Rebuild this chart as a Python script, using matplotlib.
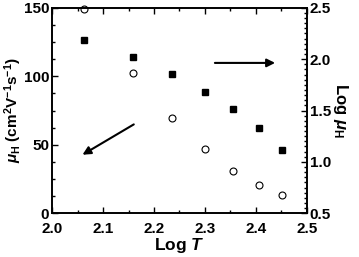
import numpy as np
from matplotlib import pyplot as plt
from matplotlib.ticker import AutoMinorLocator, MultipleLocator

plt.rcParams['font.family'] = ['Liberation Sans', 'DejaVu Sans']
plt.rcParams['font.weight'] = 'bold'
plt.rcParams['mathtext.fontset'] = 'custom'
plt.rcParams['mathtext.rm'] = 'Liberation Sans:bold'
plt.rcParams['mathtext.it'] = 'Liberation Sans:bold:italic'

# Données
log_t = [2.063, 2.159, 2.235, 2.301, 2.355, 2.406, 2.451]
mu_h = [149, 102.5, 69.5, 47, 31, 21, 13]
log_mu_h = [2.19, 2.02, 1.856, 1.68, 1.51, 1.33, 1.115]

fig, ax = plt.subplots(figsize=(3.59, 2.57), dpi=100)
fig.subplots_adjust(left=0.145, right=0.855, top=0.97, bottom=0.17)
ax2 = ax.twinx()

ax.plot(log_t, mu_h, 'o', mfc='white', mec='black', ms=5, mew=0.8, clip_on=False)
ax2.plot(log_t, log_mu_h, 's', color='black', ms=4.5, clip_on=False)

ax.set_xlim(2.0, 2.5)
ax.set_ylim(0, 150)
ax2.set_ylim(0.5, 2.5)

ax.xaxis.set_major_locator(MultipleLocator(0.1))
ax.xaxis.set_minor_locator(AutoMinorLocator(2))
ax.yaxis.set_major_locator(MultipleLocator(50))
ax.yaxis.set_minor_locator(AutoMinorLocator(4))
ax2.yaxis.set_major_locator(MultipleLocator(0.5))
ax2.yaxis.set_minor_locator(AutoMinorLocator(10))
ax2.yaxis.set_major_formatter(plt.FormatStrFormatter('%.1f'))

ax.tick_params(which='both', direction='in', top=True, labelsize=11, width=1)
ax.tick_params(axis='y', pad=2)
ax.tick_params(axis='x', pad=6.5)
ax.tick_params(which='major', length=4)
ax.tick_params(which='minor', length=2.5)
ax2.tick_params(which='both', direction='in', labelsize=11, width=1, pad=2)
ax2.tick_params(which='major', length=4)
ax2.tick_params(which='minor', length=2.5)
for a in (ax, ax2):
    for s in a.spines.values():
        s.set_linewidth(1.2)

ax.set_xlabel(r'Log $\it{T}$', fontsize=12.5, fontweight='bold', labelpad=0)
ax.set_ylabel(r'$\it{\mu}_{\rm H}$ (cm$^{2}$V$^{-1}$s$^{-1}$)', fontsize=11, fontweight='bold', labelpad=0)
ax2.set_ylabel(r'Log $\it{\mu}_{\rm H}$', fontsize=12, fontweight='bold', rotation=270, labelpad=14)

# Flèches
ax.annotate('', xy=(2.055, 41.7), xytext=(2.165, 65.9),
            arrowprops=dict(arrowstyle='-|>', color='black', lw=1.5, mutation_scale=12))
ax2.annotate('', xy=(2.443, 1.963), xytext=(2.314, 1.963),
             arrowprops=dict(arrowstyle='-|>', color='black', lw=1.5, mutation_scale=12))

plt.savefig('out.png', dpi=100)
